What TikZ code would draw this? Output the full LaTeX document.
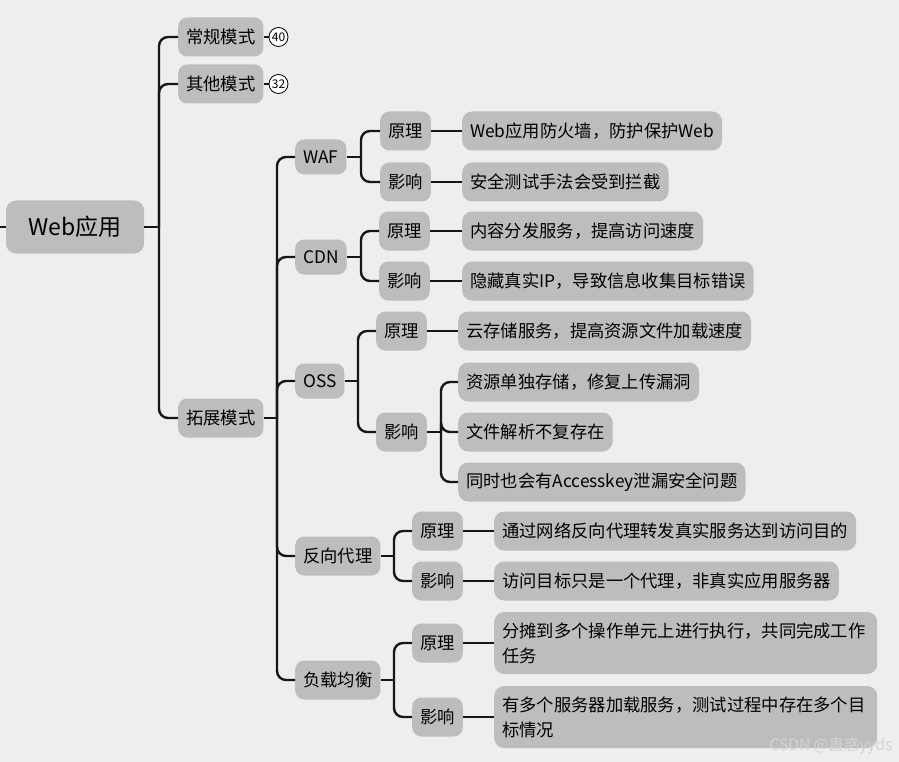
\documentclass[tikz,border=0pt]{standalone}
\usepackage{fontspec}
\setmainfont{Noto Sans CJK SC}
\usetikzlibrary{positioning}
\definecolor{mapbg}{RGB}{238,238,238}
\definecolor{mapbox}{RGB}{189,189,189}
\definecolor{mapline}{RGB}{22,22,22}
\definecolor{mapmark}{RGB}{212,212,212}

\begin{document}
\begin{tikzpicture}[
  x=1pt, y=-1pt,
  root/.style={fill=mapbox, rounded corners=10pt, minimum width=138pt,
               minimum height=53pt, font=\fontsize{23}{26}\selectfont},
  topic/.style={fill=mapbox, rounded corners=9pt, inner xsep=8pt,
                inner ysep=0pt, minimum height=39pt, anchor=west,
                font=\fontsize{17.3}{22}\selectfont},
  sub/.style={topic, minimum height=35pt},
  leaf/.style={topic, rounded corners=10pt},
  longleaf/.style={leaf, text width=367pt, align=left, minimum height=62pt,
                   font=\fontsize{17.3}{25}\selectfont},
  badge/.style={circle, draw=black, fill=white, line width=0.8pt,
                minimum size=19pt, inner sep=0pt, font=\fontsize{12}{12}\selectfont},
  conn/.style={draw=mapline, line width=2.4pt, rounded corners=9pt}
]
\fill[mapbg] (0,0) rectangle (899,762);
\useasboundingbox (0,0) rectangle (899,762);

\node[root] (web) at (75,227) {Web应用};
\coordinate (edge) at (0,227);

\node[topic] (normal) at (178,37) {常规模式};
\node[topic] (other) at (178,84) {其他模式};
\node[topic] (extend) at (178,418) {拓展模式};
\node[badge, right=5pt of normal] (cnt1) {40};
\node[badge, right=5pt of other] (cnt2) {32};

\node[sub] (waf) at (295,157) {WAF};
\node[sub] (cdn) at (295,257) {CDN};
\node[sub] (oss) at (295,381) {OSS};
\node[topic] (proxy) at (295,556) {反向代理};
\node[topic] (balance) at (295,680) {负载均衡};

\node[topic] (wafA) at (380,131) {原理};
\node[topic] (wafB) at (380,182) {影响};
\node[leaf] (wafAt) at (462,131) {Web应用防火墙，防护保护Web};
\node[leaf] (wafBt) at (462,182) {安全测试手法会受到拦截};

\node[topic] (cdnA) at (379,231) {原理};
\node[topic] (cdnB) at (379,281) {影响};
\node[leaf] (cdnAt) at (462,231) {内容分发服务，提高访问速度};
\node[leaf] (cdnBt) at (462,281) {隐藏真实IP，导致信息收集目标错误};

\node[topic] (ossA) at (376,331) {原理};
\node[topic] (ossB) at (376,432) {影响};
\node[leaf] (ossAt) at (458,331) {云存储服务，提高资源文件加载速度};
\node[leaf] (ossB1) at (458,382) {资源单独存储，修复上传漏洞};
\node[leaf] (ossB2) at (458,432) {文件解析不复存在};
\node[leaf] (ossB3) at (458,482) {同时也会有Accesskey泄漏安全问题};

\node[topic] (proxyA) at (412,531) {原理};
\node[topic] (proxyB) at (412,581) {影响};
\node[leaf] (proxyAt) at (494,531) {通过网络反向代理转发真实服务达到访问目的};
\node[leaf] (proxyBt) at (494,581) {访问目标只是一个代理，非真实应用服务器};

\node[topic] (balA) at (412,643) {原理};
\node[topic] (balB) at (412,717) {影响};
\node[longleaf] (balAt) at (494,643) {分摊到多个操作单元上进行执行，共同完成工作\\任务};
\node[longleaf] (balBt) at (494,717) {有多个服务器加载服务，测试过程中存在多个目\\标情况};

\node[text=mapmark, font=\fontsize{15.5}{15.5}\selectfont] (mark) at (831,746) {CSDN @蛊惑yyds};

% branch points
\coordinate (j0) at (159,227);
\coordinate (j1) at (277,418);
\coordinate (jw) at (361,157);
\coordinate (jc) at (361,257);
\coordinate (jo) at (358,381);
\coordinate (jb) at (441,432);
\coordinate (jp) at (394,556);
\coordinate (jl) at (394,680);

\draw[conn] (edge) -- (web.west);
\draw[conn] (web) -- (j0);
\draw[conn] (j0) |- (normal);
\draw[conn] (j0) |- (other);
\draw[conn] (j0) |- (extend);
\draw[conn, line width=2pt] (normal) -- (cnt1);
\draw[conn, line width=2pt] (other) -- (cnt2);

\draw[conn] (extend) -- (j1);
\draw[conn] (j1) |- (waf);
\draw[conn] (j1) |- (cdn);
\draw[conn] (j1) |- (oss);
\draw[conn] (j1) |- (proxy);
\draw[conn] (j1) |- (balance);

\draw[conn] (waf) -- (jw);
\draw[conn] (jw) |- (wafA);
\draw[conn] (jw) |- (wafB);
\draw[conn] (wafA) -- (wafAt);
\draw[conn] (wafB) -- (wafBt);

\draw[conn] (cdn) -- (jc);
\draw[conn] (jc) |- (cdnA);
\draw[conn] (jc) |- (cdnB);
\draw[conn] (cdnA) -- (cdnAt);
\draw[conn] (cdnB) -- (cdnBt);

\draw[conn] (oss) -- (jo);
\draw[conn] (jo) |- (ossA);
\draw[conn] (jo) |- (ossB);
\draw[conn] (ossA) -- (ossAt);
\draw[conn] (ossB) -- (jb);
\draw[conn] (jb) |- (ossB1);
\draw[conn] (jb) |- (ossB2);
\draw[conn] (jb) |- (ossB3);

\draw[conn] (proxy) -- (jp);
\draw[conn] (jp) |- (proxyA);
\draw[conn] (jp) |- (proxyB);
\draw[conn] (proxyA) -- (proxyAt);
\draw[conn] (proxyB) -- (proxyBt);

\draw[conn] (balance) -- (jl);
\draw[conn] (jl) |- (balA);
\draw[conn] (jl) |- (balB);
\draw[conn] (balA) -- (balAt);
\draw[conn] (balB) -- (balBt);
\end{tikzpicture}
\end{document}
